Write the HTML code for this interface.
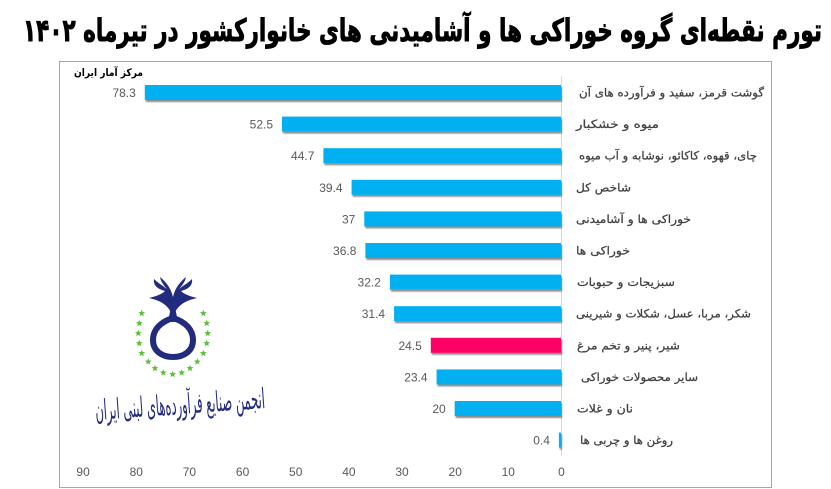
<!DOCTYPE html>
<html>
<head>
<meta charset="utf-8">
<style>
  html,body{margin:0;padding:0;background:#fff;}
  svg{display:block;}
</style>
</head>
<body>
<svg width="831" height="489" viewBox="0 0 831 489" xmlns="http://www.w3.org/2000/svg">
  <defs>
    <filter id="sh" x="-5%" y="-30%" width="110%" height="180%">
      <feDropShadow dx="1" dy="2" stdDeviation="0.8" flood-color="#000" flood-opacity="0.45"/>
    </filter>
    <path id="star" d="M0,-3.6 L0.9,-1.25 L3.4,-1.1 L1.5,0.5 L2.1,2.9 L0,1.55 L-2.1,2.9 L-1.5,0.5 L-3.4,-1.1 L-0.9,-1.25 Z" fill="#5cbf3a"/>
  </defs>

  <rect x="0" y="0" width="831" height="489" fill="#fff"/>

  <!-- Title -->
  <text x="422.5" y="41" text-anchor="middle" direction="rtl" textLength="799" lengthAdjust="spacingAndGlyphs"
        font-family="'DejaVu Sans', sans-serif" font-weight="bold" font-size="31" fill="#000" stroke="#000" stroke-width="0.9">تورم نقطه‌ای گروه خوراکی ها و آشامیدنی های خانوارکشور در تیرماه ۱۴۰۲</text>

  <!-- Frame -->
  <rect x="59.5" y="61.5" width="712" height="426" fill="none" stroke="#a8a8a8" stroke-width="1"/>

  <!-- Source -->
  <text x="108.5" y="76" text-anchor="middle" direction="rtl" textLength="69" lengthAdjust="spacingAndGlyphs"
        font-family="'DejaVu Sans', sans-serif" font-weight="bold" font-size="10.5" fill="#000">مرکز آمار ایران</text>

  <!-- Axis line -->
  <line x1="561.5" y1="76" x2="561.5" y2="455" stroke="#d9d9d9" stroke-width="1"/>

  <!-- Bars -->
  <g filter="url(#sh)">
    <rect x="144.8" y="85" width="416.2" height="15" fill="#00b0f0"/>
    <rect x="282.0" y="116.6" width="279.0" height="15" fill="#00b0f0"/>
    <rect x="323.4" y="148.2" width="237.6" height="15" fill="#00b0f0"/>
    <rect x="351.6" y="179.8" width="209.4" height="15" fill="#00b0f0"/>
    <rect x="364.3" y="211.4" width="196.7" height="15" fill="#00b0f0"/>
    <rect x="365.4" y="243.0" width="195.6" height="15" fill="#00b0f0"/>
    <rect x="389.9" y="274.6" width="171.1" height="15" fill="#00b0f0"/>
    <rect x="394.1" y="306.2" width="166.9" height="15" fill="#00b0f0"/>
    <rect x="430.8" y="337.8" width="130.2" height="15" fill="#ff0066"/>
    <rect x="436.6" y="369.4" width="124.4" height="15" fill="#00b0f0"/>
    <rect x="454.7" y="401.0" width="106.3" height="15" fill="#00b0f0"/>
    <rect x="558.9" y="432.6" width="2.1" height="15" fill="#00b0f0"/>
  </g>

  <!-- Value labels -->
  <g font-family="'Liberation Sans', sans-serif" font-size="12" fill="#595959" text-anchor="end">
    <text x="135.8" y="97">78.3</text>
    <text x="273.0" y="128.6">52.5</text>
    <text x="314.4" y="160.2">44.7</text>
    <text x="342.6" y="191.8">39.4</text>
    <text x="355.3" y="223.4">37</text>
    <text x="356.4" y="255">36.8</text>
    <text x="380.9" y="286.6">32.2</text>
    <text x="385.1" y="318.2">31.4</text>
    <text x="421.8" y="349.8">24.5</text>
    <text x="427.6" y="381.4">23.4</text>
    <text x="445.7" y="413">20</text>
    <text x="549.9" y="444.6">0.4</text>
  </g>

  <!-- Category labels -->
  <g font-family="'DejaVu Sans', sans-serif" font-size="11.5" fill="#404040" stroke="#404040" stroke-width="0.25" text-anchor="middle" direction="rtl">
    <text x="671.5" y="96.5" textLength="185" lengthAdjust="spacingAndGlyphs">گوشت قرمز، سفید و فرآورده های آن</text>
    <text x="617.5" y="128.1" textLength="83" lengthAdjust="spacingAndGlyphs">میوه و خشکبار</text>
    <text x="668" y="159.7" textLength="178" lengthAdjust="spacingAndGlyphs">چای، قهوه، کاکائو، نوشابه و آب میوه</text>
    <text x="603.5" y="191.3" textLength="55" lengthAdjust="spacingAndGlyphs">شاخص کل</text>
    <text x="633.5" y="222.9" textLength="115" lengthAdjust="spacingAndGlyphs">خوراکی ها و  آشامیدنی</text>
    <text x="603" y="254.5" textLength="54" lengthAdjust="spacingAndGlyphs">خوراکی ها</text>
    <text x="626" y="286.1" textLength="98" lengthAdjust="spacingAndGlyphs">سبزیجات و حبوبات</text>
    <text x="663.5" y="317.7" textLength="175" lengthAdjust="spacingAndGlyphs">شکر، مربا، عسل، شکلات و شیرینی</text>
    <text x="628.5" y="349.3" textLength="103" lengthAdjust="spacingAndGlyphs">شیر، پنیر و تخم مرغ</text>
    <text x="639.5" y="380.9" textLength="117" lengthAdjust="spacingAndGlyphs">سایر محصولات خوراکی</text>
    <text x="605" y="412.5" textLength="56" lengthAdjust="spacingAndGlyphs">نان و غلات</text>
    <text x="626.5" y="444.1" textLength="93" lengthAdjust="spacingAndGlyphs">روغن ها و چربی ها</text>
  </g>

  <!-- X axis tick labels -->
  <g font-family="'Liberation Sans', sans-serif" font-size="12" fill="#595959" text-anchor="middle">
    <text x="561.5" y="476">0</text>
    <text x="508.3" y="476">10</text>
    <text x="455.2" y="476">20</text>
    <text x="402.0" y="476">30</text>
    <text x="348.9" y="476">40</text>
    <text x="295.7" y="476">50</text>
    <text x="242.6" y="476">60</text>
    <text x="189.4" y="476">70</text>
    <text x="136.3" y="476">80</text>
    <text x="83.1" y="476">90</text>
  </g>

  <!-- Logo -->
  <g>
    <!-- loop (teardrop) -->
    <path d="M173,318 C160,322 153,330 153,340 C153,351 162,357 173,357 C184,357 193,351 193,340 C193,330 186,322 173,318 Z" fill="none" stroke="#232b7e" stroke-width="6"/>
    <!-- neck -->
    <path d="M168,322 C170,312 171,306 173,300 C175,306 176,312 178,322 Z" fill="#232b7e"/>
    <!-- left wing -->
    <path d="M173,318 C170,306 162,301 149,298 C157,296 162,294 165,291 C157,289 153,285 154,279 C161,286 168,287 171,296 C169,290 161,284 160,277 C167,283 173,290 174,304 Z" fill="#232b7e"/>
    <!-- right wing -->
    <g transform="translate(346,0) scale(-1,1)">
      <path d="M173,318 C170,306 162,301 149,298 C157,296 162,294 165,291 C157,289 153,285 154,279 C161,286 168,287 171,296 C169,290 161,284 160,277 C167,283 173,290 174,304 Z" fill="#232b7e"/>
    </g>
    <!-- stars -->
    <use href="#star" x="141.7" y="313.3"/>
    <use href="#star" x="139.3" y="323.3"/>
    <use href="#star" x="138.3" y="333.3"/>
    <use href="#star" x="139.3" y="343.3"/>
    <use href="#star" x="141.7" y="353.3"/>
    <use href="#star" x="148.3" y="361.7"/>
    <use href="#star" x="155" y="368.3"/>
    <use href="#star" x="163.3" y="372.7"/>
    <use href="#star" x="172.7" y="374.3"/>
    <use href="#star" x="181.7" y="372.7"/>
    <use href="#star" x="190" y="368.3"/>
    <use href="#star" x="197.3" y="361.7"/>
    <use href="#star" x="203.3" y="353.3"/>
    <use href="#star" x="206.7" y="343.3"/>
    <use href="#star" x="207.7" y="333.3"/>
    <use href="#star" x="206.7" y="323.3"/>
    <use href="#star" x="203.3" y="313.3"/>
    <!-- calligraphy name -->
    <text x="180" y="414" text-anchor="middle" direction="rtl" textLength="170" lengthAdjust="spacingAndGlyphs"
          font-family="'DejaVu Sans', sans-serif" font-size="28" fill="#232b7e" transform="rotate(-4 180 405)">انجمن صنایع فرآورده‌های لبنی ایران</text>
  </g>
</svg>
</body>
</html>
